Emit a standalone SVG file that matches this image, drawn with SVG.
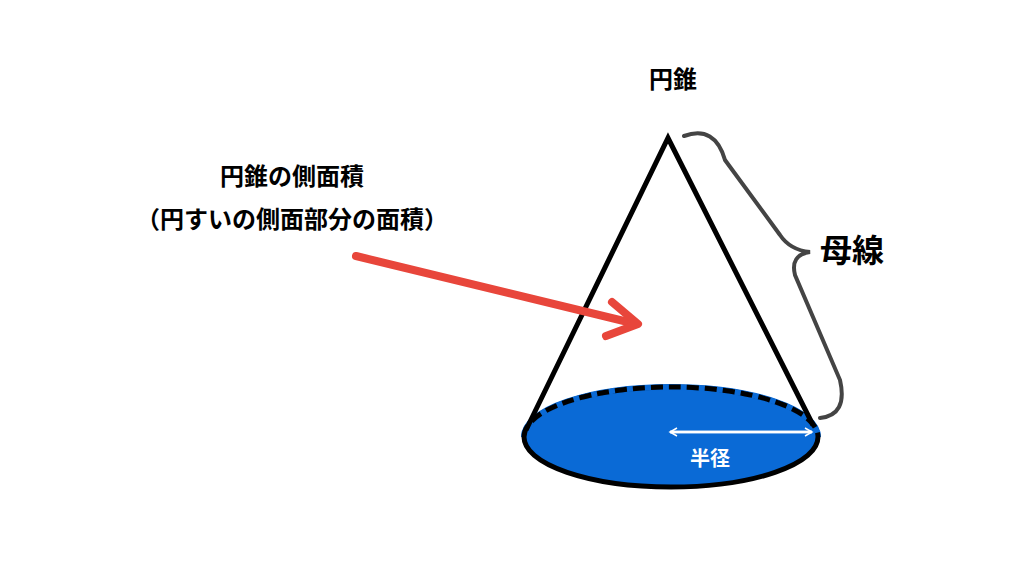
<svg xmlns="http://www.w3.org/2000/svg" width="1024" height="576" viewBox="0 0 1024 576">
<style>
.t{font-family:"Noto Sans CJK JP",sans-serif;font-weight:bold;fill:#000}
</style>
<defs>
<marker id="ah" viewBox="0 0 10 10" refX="8" refY="5" markerWidth="4" markerHeight="4" orient="auto"><path d="M1,1 L8,5 L1,9" fill="none" stroke="#fff" stroke-width="1.5"/></marker>
</defs>
<rect width="1024" height="576" fill="#fff"/>
<g id="cone">
<ellipse cx="671" cy="437" rx="147" ry="50" fill="#0a6ad6" stroke="#000" stroke-width="5"/>
<path d="M524,437 A147,50 0 0 1 818,437" fill="none" stroke="#0a6ad6" stroke-width="6"/>
<path d="M524,437 A147,50 0 0 1 818,437" fill="none" stroke="#000" stroke-width="5" stroke-dasharray="12,6"/>
<path d="M526,430 L668,138 L813,425" fill="none" stroke="#000" stroke-width="5" stroke-linejoin="miter"/>
</g>
<g id="connectors">
<path d="M684,136 Q715,125 725,160 L780,235 Q790,250 810,252 Q790,255 795,275 L840,380 Q848,415 820,418" fill="none" stroke="#444" stroke-width="4" stroke-linecap="round"/>
<line x1="356" y1="256" x2="628" y2="322" stroke="#e8463b" stroke-width="8" stroke-linecap="round"/>
<path d="M612,302 L638,324 L606,336" fill="none" stroke="#e8463b" stroke-width="8" stroke-linecap="round" stroke-linejoin="round"/>
<line x1="812" y1="432" x2="670" y2="432" stroke="#fff" stroke-width="2.5" marker-end="url(#ah)"/>
<line x1="670" y1="432" x2="812" y2="432" stroke="#fff" stroke-width="2.5" marker-end="url(#ah)"/>
</g>
<g id="labels">
<text class="t" x="673" y="88" font-size="24" text-anchor="middle">円錐</text>
<text class="t" x="292" y="185" font-size="24" text-anchor="middle">円錐の側面積</text>
<text class="t" x="292" y="228" font-size="24" text-anchor="middle">（円すいの側面部分の面積）</text>
<text class="t" x="852" y="262" font-size="32" text-anchor="middle">母線</text>
<text class="t" x="710" y="466" font-size="20" text-anchor="middle" style="fill:#fff">半径</text>
</g>
</svg>
